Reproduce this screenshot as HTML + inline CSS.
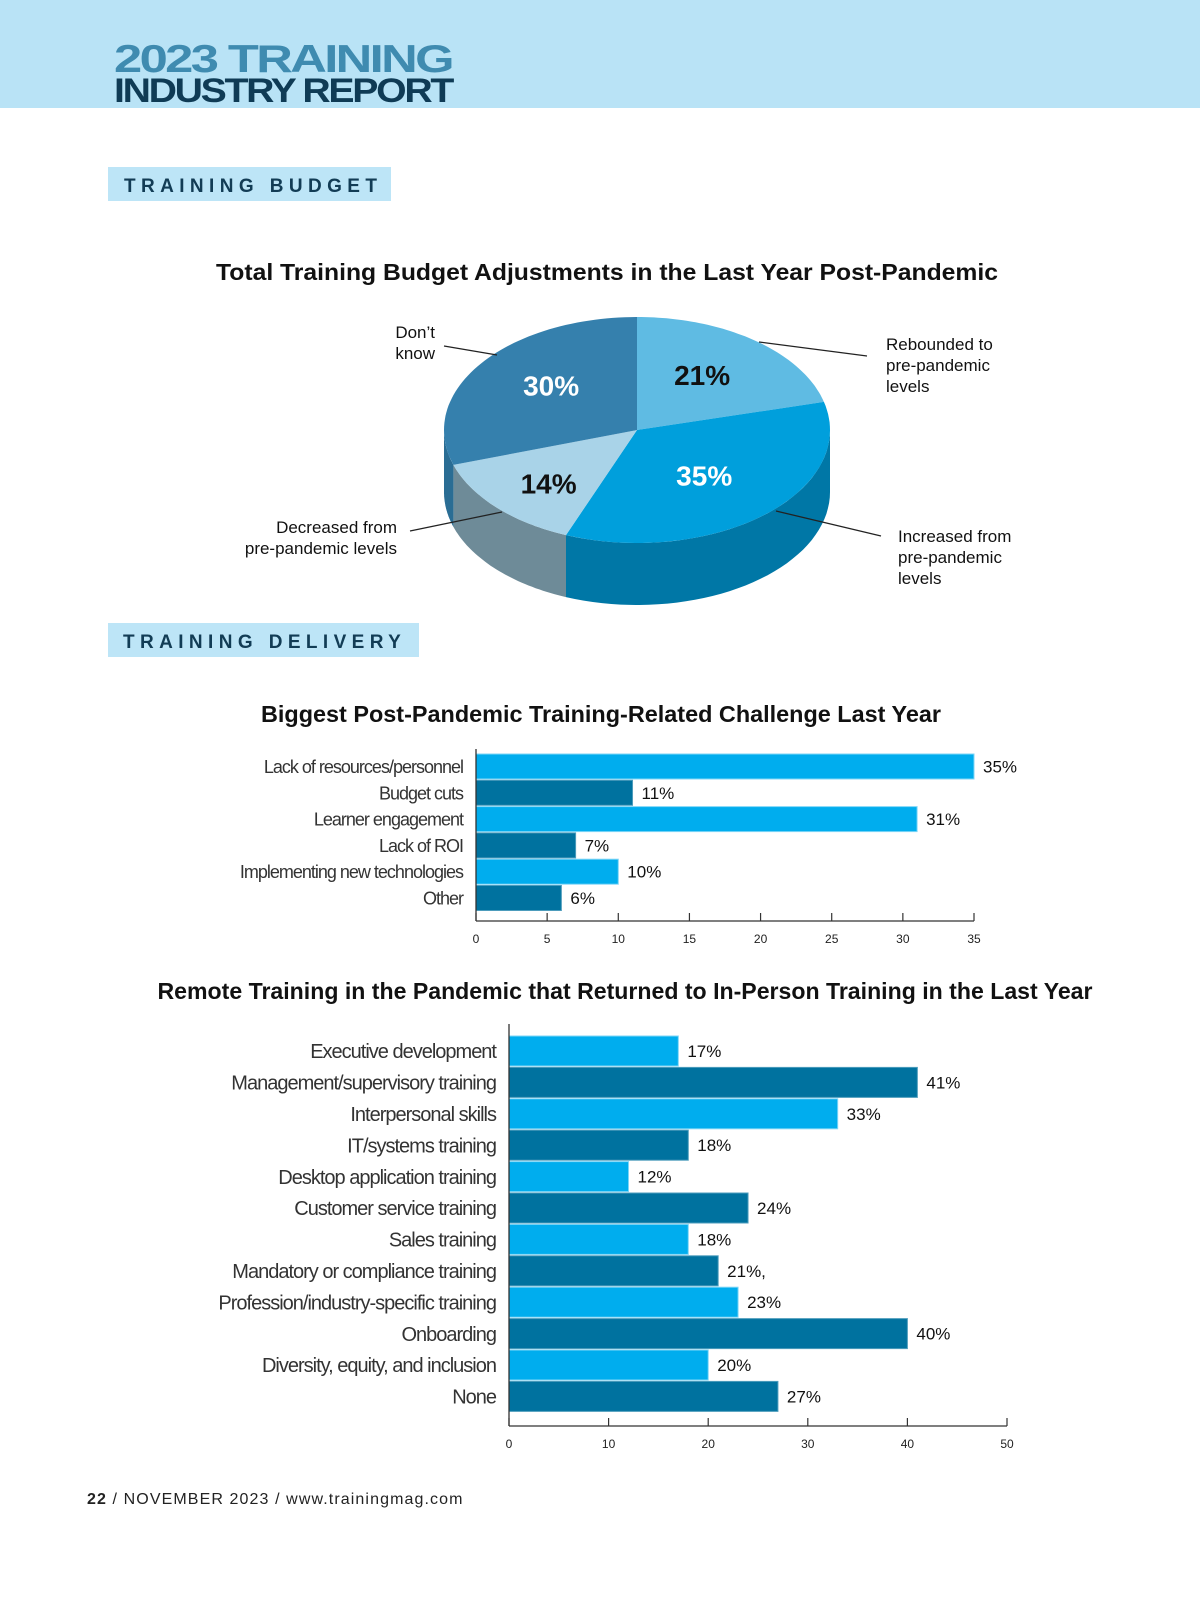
<!DOCTYPE html>
<html><head><meta charset="utf-8"><style>
body{margin:0;background:#fff;}
svg{display:block;font-family:"Liberation Sans",sans-serif;}
</style></head><body>
<svg id="page" width="1200" height="1613" viewBox="0 0 1200 1613" xmlns="http://www.w3.org/2000/svg">
<rect x="0" y="0" width="1200" height="108" fill="#b9e3f6"/>
<text x="114" y="72" font-size="39" font-weight="bold" fill="#3f8bb0" letter-spacing="-2" textLength="338" lengthAdjust="spacingAndGlyphs">2023 TRAINING</text>
<text x="114" y="102" font-size="34" font-weight="bold" fill="#0f3b55" letter-spacing="-2" textLength="338" lengthAdjust="spacingAndGlyphs">INDUSTRY REPORT</text>

<rect x="108" y="167" width="283" height="34" fill="#bde5f7"/>
<text x="124" y="192" font-size="19" font-weight="bold" fill="#123c55" letter-spacing="5.4">TRAINING BUDGET</text>

<text x="607" y="280" font-size="23" font-weight="bold" fill="#111" text-anchor="middle" textLength="782" lengthAdjust="spacingAndGlyphs">Total Training Budget Adjustments in the Last Year Post-Pandemic</text>
<g id="pie"></g>

<rect x="108" y="623" width="311" height="34" fill="#bde5f7"/>
<text x="123" y="648" font-size="19" font-weight="bold" fill="#123c55" letter-spacing="5.4">TRAINING DELIVERY</text>

<text x="601" y="722" font-size="23" font-weight="bold" fill="#111" text-anchor="middle" textLength="680" lengthAdjust="spacingAndGlyphs">Biggest Post-Pandemic Training-Related Challenge Last Year</text>
<g id="chart2"></g>

<text x="625" y="999" font-size="23" font-weight="bold" fill="#111" text-anchor="middle" textLength="935" lengthAdjust="spacingAndGlyphs">Remote Training in the Pandemic that Returned to In-Person Training in the Last Year</text>
<g id="chart3"></g>

<text x="87" y="1504" font-size="16" fill="#222" letter-spacing="1.1"><tspan font-weight="bold">22</tspan> / NOVEMBER 2023 / www.trainingmag.com</text>
</svg>
<script>
const NS="http://www.w3.org/2000/svg";
function mk(parent,tag,attrs,text){const e=document.createElementNS(NS,tag);for(const k in attrs)e.setAttribute(k,attrs[k]);if(text!==undefined)e.textContent=text;parent.appendChild(e);return e;}

// ---------- Pie data ----------
const pieLabels=["Rebounded to pre-pandemic levels","Increased from pre-pandemic levels","Decreased from pre-pandemic levels","Don't know"];
const pieValues=[21,35,14,30];
const pieTop=["#5fbbe3","#009fdc","#a9d3e8","#3580ad"];
const pieSide=["#4a9fc6","#0077a6","#6e8b98","#2a6d94"];
const pieText=["#111","#fff","#111","#fff"];

(function(){
  const g=document.getElementById('pie');
  const cx=637,cy=430,rx=193,ry=113,depth=62;
  const nudge=[[0,-6],[-3,-1],[-11,11],[0,-8]];
  const total=pieValues.reduce((a,b)=>a+b,0);
  const P=(t,dy)=>[cx+rx*Math.sin(t),cy-ry*Math.cos(t)+(dy||0)];
  let a=0;const arcs=[];
  pieValues.forEach((v,i)=>{const s=a,e=a+v/total*2*Math.PI;arcs.push([s,e]);a=e;});
  arcs.forEach(([s,e],i)=>{
    const s2=Math.max(s,Math.PI/2),e2=Math.min(e,3*Math.PI/2);
    if(e2<=s2)return;
    let d="";const n=40;
    for(let k=0;k<=n;k++){const t=s2+(e2-s2)*k/n;const p=P(t);d+=(k?"L":"M")+p[0].toFixed(1)+","+p[1].toFixed(1);}
    for(let k=n;k>=0;k--){const t=s2+(e2-s2)*k/n;const p=P(t,depth);d+="L"+p[0].toFixed(1)+","+p[1].toFixed(1);}
    const side=mk(g,'path',{d:d+"Z",fill:pieSide[i]});
    
    
  });
  arcs.forEach(([s,e],i)=>{
    let d="M"+cx+","+cy;const n=60;
    for(let k=0;k<=n;k++){const t=s+(e-s)*k/n;const p=P(t);d+="L"+p[0].toFixed(1)+","+p[1].toFixed(1);}
    const sl=mk(g,'path',{d:d+"Z",fill:pieTop[i]});
    
    
    const m=(s+e)/2;const lp=[cx+rx*0.55*Math.sin(m)+nudge[i][0],cy-ry*0.55*Math.cos(m)+10+nudge[i][1]];
    const tx=mk(g,'text',{x:lp[0].toFixed(1),y:lp[1].toFixed(1),'font-size':28,'font-weight':'bold',fill:pieText[i],'text-anchor':'middle'},pieValues[i]+"%");
    
    
  });
  const lines=[[759,342,867,356],[776,511,881,536],[410,531,502,512],[444,346,497,355]];
  lines.forEach(l=>{const ln=mk(g,'line',{x1:l[0],y1:l[1],x2:l[2],y2:l[3],stroke:'#222','stroke-width':1.2});
    
    });
  const callouts=[
    {x:886,a:'start',ys:[350,371,392],t:["Rebounded to","pre-pandemic","levels"]},
    {x:898,a:'start',ys:[542,563,584],t:["Increased from","pre-pandemic","levels"]},
    {x:397,a:'end',ys:[533,554],t:["Decreased from","pre-pandemic levels"]},
    {x:435,a:'end',ys:[338,359],t:["Don\u2019t","know"]}];
  callouts.forEach(c=>{c.t.forEach((s,k)=>{const tx=mk(g,'text',{x:c.x,y:c.ys[k],'font-size':17,fill:'#111','text-anchor':c.a},s);
    
    });});
})();

// ---------- Chart 2 data ----------
const c2Categories=["Lack of resources/personnel","Budget cuts","Learner engagement","Lack of ROI","Implementing new technologies","Other"];
const c2Values=[35,11,31,7,10,6];
const c2Ticks=[0,5,10,15,20,25,30,35];

// ---------- Chart 3 data ----------
const c3Categories=["Executive development","Management/supervisory training","Interpersonal skills","IT/systems training","Desktop application training","Customer service training","Sales training","Mandatory or compliance training","Profession/industry-specific training","Onboarding","Diversity, equity, and inclusion","None"];
const c3Values=[17,41,33,18,12,24,18,21,23,40,20,27];
const c3ValueLabels=["17%","41%","33%","18%","12%","24%","18%","21%,","23%","40%","20%","27%"];
const c3Ticks=[0,10,20,30,40,50];

function barChart(gid,cats,vals,vlabels,ticks,o){
  const g=document.getElementById(gid);
  const max=ticks[ticks.length-1];
  const X=v=>o.x0+(o.x1-o.x0)*v/max;
  const Y=i=>o.top+i*o.pitch;
  cats.forEach((c,i)=>{
    const light=i%2===0;
    const r=mk(g,'rect',{x:X(0),y:Y(i),width:X(vals[i])-X(0),height:o.bh,fill:light?'#00adee':'#00729f',stroke:light?'#7fd6f7':'#4d9cbc','stroke-width':1});
    
    
    const lb=mk(g,'text',{x:o.x0-13,y:Y(i)+o.bh/2+o.fs*0.36,'font-size':o.fs,fill:'#333','text-anchor':'end','letter-spacing':-1},c);
    
    
    const vl=mk(g,'text',{x:X(vals[i])+9,y:Y(i)+o.bh/2+6,'font-size':17,fill:'#111'},vlabels?vlabels[i]:vals[i]+"%");
    
    
  });
  const ax=mk(g,'line',{x1:o.x0,y1:o.axTop,x2:o.x0,y2:o.axY,stroke:'#333','stroke-width':1.3});
  
  
  const bx=mk(g,'line',{x1:o.x0,y1:o.axY,x2:o.x1,y2:o.axY,stroke:'#333','stroke-width':1.3});
  
  
  ticks.forEach(t=>{
    const tk=mk(g,'line',{x1:X(t),y1:o.axY-8,x2:X(t),y2:o.axY,stroke:'#333','stroke-width':1.2});
    
    
    const tl=mk(g,'text',{x:X(t),y:o.axY+22,'font-size':12,fill:'#222','text-anchor':'middle'},String(t));
    
    
  });
}
barChart('chart2',c2Categories,c2Values,null,c2Ticks,{x0:476,x1:974,top:754,pitch:26.3,bh:25,fs:18,axTop:749,axY:921});
barChart('chart3',c3Categories,c3Values,c3ValueLabels,c3Ticks,{x0:509,x1:1007,top:1036,pitch:31.4,bh:30,fs:20,axTop:1024,axY:1426});
</script>
</body></html>
